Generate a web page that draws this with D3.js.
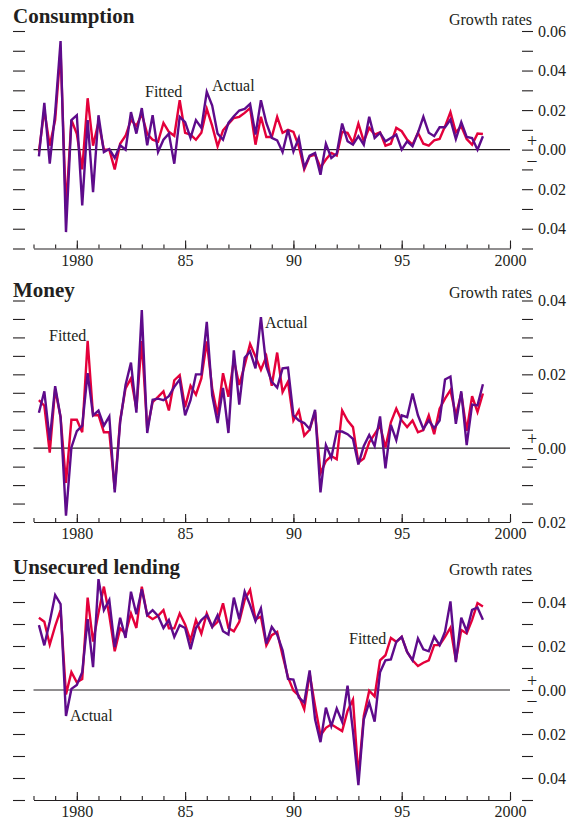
<!DOCTYPE html>
<html>
<head>
<meta charset="utf-8">
<script src="https://cdn.jsdelivr.net/npm/d3@7"></script>
<style>
    body { margin: 0; background: #fff; }
    text { font-family: "Liberation Serif", "DejaVu Serif", serif; fill: #231f20; }
</style>
</head>
<body>
<svg id="chart" width="573" height="833"></svg>
<script>
// quarterly observations, 1978 Q2 .. 1998 Q4
const quarters = d3.range(83).map(i => 1978.25 + i * 0.25);

const yearTicks     = d3.range(1978, 2001);
const yearLabels    = [1980, 1985, 1990, 1995, 2000];
const yearLabelText = ['1980', '85', '90', '95', '2000'];

const consActual = [
    -0.0034, 0.0236, -0.0071, 0.0186, 0.0549, -0.0417, 0.0149, 0.0174, -0.0282, 0.0149,
    -0.0215, 0.0174, -0.0012, 0.0003, -0.0042, 0.0022, 0.0, 0.019, 0.0081, 0.021,
    0.0022, 0.0174, -0.0012, 0.005, 0.0081, -0.0071, 0.0166, 0.0139, 0.0059, 0.0149,
    0.011, 0.0292, 0.0223, 0.0081, 0.005, 0.0135, 0.0169, 0.0198, 0.0206, 0.0231,
    0.0076, 0.025, 0.0135, 0.0059, 0.0047, -0.0012, 0.0101, -0.001, 0.006, -0.009,
    -0.003, -0.0017, -0.0127, 0.003, -0.0042, -0.002, 0.0132, 0.0042, 0.0025, 0.0068,
    0.0025, 0.0166, 0.0059, 0.0085, 0.0042, 0.0059, 0.0076, 0.0, 0.0042, 0.0017,
    0.0085, 0.0166, 0.0085, 0.0068, 0.0113, 0.0113, 0.0152, 0.0054, 0.0139, 0.0064,
    0.0059, 0.0, 0.0068
];
const consFitted = [
    -0.001, 0.02, 0.002, 0.015, 0.05, -0.03, 0.015, 0.008, -0.010, 0.026,
    0.002, 0.014, 0.0, 0.0, -0.010, 0.003, 0.007, 0.015, 0.012, 0.018,
    0.008, 0.005, 0.004, 0.0135, 0.009, 0.007, 0.025, 0.0085, 0.0076, 0.005,
    0.0085, 0.0206, 0.012, 0.0017, 0.0098, 0.013, 0.016, 0.0166, 0.0186, 0.021,
    0.0025, 0.0166, 0.0064, 0.0064, 0.0166, 0.0085, 0.01, 0.009, 0.0017, -0.010,
    -0.0034, -0.0025, -0.009, -0.005, -0.0017, -0.003, 0.009, 0.0085, 0.0034, 0.0132,
    0.0042, 0.011, 0.0076, 0.0088, 0.002, 0.003, 0.011, 0.0093, 0.005, 0.0025,
    0.0085, 0.003, 0.002, 0.0047, 0.0054, 0.0118, 0.019, 0.0088, 0.0118, 0.0054,
    0.0025, 0.0081, 0.0079
];

const moneyActual = [
    0.0096, 0.0154, 0.0022, 0.0168, 0.0084, -0.0183, 0.0002, 0.0046, 0.0061, 0.0203,
    0.0089, 0.0102, 0.0061, 0.0086, -0.012, 0.007, 0.0171, 0.0232, 0.0096, 0.0374,
    0.0041, 0.0131, 0.0134, 0.013, 0.0141, 0.0166, 0.0186, 0.0089, 0.013, 0.02,
    0.02, 0.0342, 0.0143, 0.0068, 0.0163, 0.0041, 0.0265, 0.0118, 0.0245, 0.0262,
    0.0216, 0.0355, 0.0221, 0.018, 0.0164, 0.0216, 0.0218, 0.0089, 0.0075, 0.0068,
    0.0052, 0.0104, -0.012, 0.0008, -0.0026, 0.0045, 0.0045, 0.0038, 0.0025, -0.0044,
    0.0006, 0.0036, 0.0006, 0.0086, -0.0055, 0.0063, 0.0022, 0.0089, 0.0084, 0.0148,
    0.0089, 0.0052, 0.0075, 0.0054, 0.0075, 0.0186, 0.0194, 0.0066, 0.0154, 0.0008,
    0.0118, 0.0116, 0.0173
];
const moneyFitted = [
    0.013, 0.0115, -0.0012, 0.016, 0.0084, -0.0094, 0.0077, 0.0077, 0.0043, 0.0291,
    0.0089, 0.009, 0.0043, 0.0043, -0.011, 0.0075, 0.0162, 0.0189, 0.0107, 0.029,
    0.0052, 0.0125, 0.0139, 0.0154, 0.0102, 0.0184, 0.0198, 0.0111, 0.0169, 0.0145,
    0.0189, 0.0289, 0.0162, 0.0089, 0.0203, 0.0139, 0.0239, 0.0171, 0.0225, 0.0282,
    0.0248, 0.0212, 0.0248, 0.0169, 0.0259, 0.0152, 0.018, 0.0075, 0.0102, 0.0034,
    0.005, 0.0098, -0.0068, -0.0035, -0.0021, -0.003, 0.0102, 0.0075, 0.0057, -0.0039,
    -0.0028, 0.0016, 0.0038, 0.0061, 0.0002, 0.007, 0.0107, 0.0075, 0.0057, 0.0075,
    0.0043, 0.0049, 0.0089, 0.0038, 0.0107, 0.0134, 0.0157, 0.0089, 0.0148, 0.0047,
    0.0141, 0.0098, 0.0148
];

const lendActual = [
    0.0295, 0.0203, 0.031, 0.0432, 0.039, -0.0118, 0.0005, 0.0023, 0.0081, 0.0322,
    0.0104, 0.0504, 0.0363, 0.0409, 0.0195, 0.0328, 0.0237, 0.0447, 0.0344, 0.0458,
    0.034, 0.0363, 0.0337, 0.0282, 0.0318, 0.0241, 0.0295, 0.0282, 0.0185, 0.0282,
    0.0318, 0.034, 0.0287, 0.034, 0.0267, 0.0252, 0.042, 0.0322, 0.0447, 0.0386,
    0.0313, 0.0371, 0.0211, 0.0287, 0.0252, 0.018, 0.005, 0.0047, -0.0034, -0.0057,
    0.0089, -0.0133, -0.0237, -0.008, -0.0164, -0.0084, -0.0144, 0.002, -0.0187, -0.0432,
    -0.0133, -0.0057, -0.0144, 0.0081, 0.0135, 0.0139, 0.0219, 0.0242, 0.0173, 0.0135,
    0.0234, 0.0185, 0.0176, 0.0242, 0.0204, 0.0265, 0.0403, 0.0127, 0.0329, 0.0268,
    0.0364, 0.0375, 0.0319
];
const lendFitted = [
    0.0328, 0.031, 0.0206, 0.029, 0.0363, -0.002, 0.0081, 0.0035, 0.005, 0.042,
    0.022, 0.035, 0.047, 0.034, 0.0176, 0.028, 0.0256, 0.0348, 0.0282, 0.047,
    0.034, 0.0322, 0.0337, 0.0363, 0.028, 0.028, 0.0348, 0.0298, 0.0226, 0.0318,
    0.0256, 0.0348, 0.0287, 0.031, 0.0394, 0.0282, 0.0267, 0.031, 0.0409, 0.0455,
    0.0322, 0.0333, 0.0203, 0.0249, 0.0264, 0.0157, 0.0058, -0.0003, -0.0026, -0.0087,
    0.0074, -0.0072, -0.0207, -0.0172, -0.0156, -0.0172, -0.0187, -0.0095, -0.0044, -0.0394,
    -0.0118, -0.0003, -0.0029, 0.0135, 0.0158, 0.0237, 0.0219, 0.0242, 0.0173, 0.0135,
    0.0109, 0.0124, 0.0135, 0.0204, 0.0204, 0.0242, 0.0283, 0.0135, 0.0273, 0.0257,
    0.0319, 0.0395, 0.038
];

const consTicks   = [-0.05, -0.04, -0.03, -0.02, -0.01, 0, 0.01, 0.02, 0.03, 0.04, 0.05, 0.06];
const consLabels  = [-0.04, -0.02, 0, 0.02, 0.04, 0.06];
const moneyTicks  = [-0.02, -0.015, -0.01, -0.005, 0, 0.005, 0.01, 0.015, 0.02, 0.025, 0.03, 0.035, 0.04];
const moneyLabels = [-0.02, 0, 0.02, 0.04];
const lendTicks   = [-0.05, -0.04, -0.03, -0.02, -0.01, 0, 0.01, 0.02, 0.03, 0.04, 0.05];
const lendLabels  = [-0.04, -0.02, 0, 0.02, 0.04];

const FITTED = '#e4003b';
const ACTUAL = '#5e0b8b';
const INK    = '#231f20';

let panels = [
    { title: 'Consumption', actual: consActual, fitted: consFitted,
      ticks: consTicks, labels: consLabels, top: 31, bottom: 248.5, titleY: 22.5, unitY: 25,
      notes: [ { text: 'Fitted', x: 145, y: 97 }, { text: 'Actual', x: 212, y: 91 } ] },
    { title: 'Money', actual: moneyActual, fitted: moneyFitted,
      ticks: moneyTicks, labels: moneyLabels, top: 300.5, bottom: 522, titleY: 297, unitY: 298,
      notes: [ { text: 'Fitted', x: 49, y: 341 }, { text: 'Actual', x: 265, y: 328 } ] },
    { title: 'Unsecured lending', actual: lendActual, fitted: lendFitted,
      ticks: lendTicks, labels: lendLabels, top: 580, bottom: 800, titleY: 574, unitY: 575,
      notes: [ { text: 'Actual', x: 70, y: 721 }, { text: 'Fitted', x: 349, y: 644 } ] }
];

let svg = d3.select('#chart');

let x = d3.scaleLinear()
    .domain([1978, 2000])
    .range([33.5, 510]);

let labelFormat = d3.format('.2f');

panels.forEach(p => {
    let g = svg.append('g');

    let y = d3.scaleLinear()
        .domain([d3.min(p.ticks), d3.max(p.ticks)])
        .range([p.bottom, p.top]);

    // left tick marks, no labels
    g.append('g')
        .attr('transform', 'translate(25,0)')
        .call(d3.axisLeft(y).tickValues(p.ticks).tickSize(12).tickFormat(''))
        .call(a => a.select('.domain').remove());

    // right tick marks with labels every other tick
    g.append('g')
        .attr('transform', 'translate(522,0)')
        .call(d3.axisRight(y).tickValues(p.ticks).tickSize(11).tickPadding(5)
            .tickFormat(d => p.labels.some(l => Math.abs(l - d) < 1e-9) ? labelFormat(Math.abs(d)) : ''))
        .call(a => a.select('.domain').remove());

    // x axis: small yearly ticks and taller five-year ticks
    g.append('g')
        .attr('transform', `translate(0,${p.bottom})`)
        .call(d3.axisBottom(x).tickValues(yearTicks).tickSizeInner(-4).tickSizeOuter(0).tickFormat(''));

    g.append('g')
        .attr('transform', `translate(0,${p.bottom})`)
        .call(d3.axisBottom(x).tickValues(yearLabels).tickSizeInner(-8).tickSizeOuter(0).tickPadding(6)
            .tickFormat((d, i) => yearLabelText[i]))
        .call(a => a.select('.domain').remove());

    g.selectAll('.tick line').attr('stroke', INK).attr('stroke-width', 1.1);
    g.selectAll('.domain').attr('stroke', INK).attr('stroke-width', 1.1);
    g.selectAll('.tick text')
        .attr('font-family', '"Liberation Serif", serif')
        .attr('font-size', 16)
        .attr('fill', INK);

    // zero line
    g.append('line')
        .attr('x1', x(1978)).attr('x2', x(2000))
        .attr('y1', y(0)).attr('y2', y(0))
        .attr('stroke', INK)
        .attr('stroke-width', 1.2);

    let line = d3.line()
        .x((d, i) => x(quarters[i]))
        .y(d => y(d));

    g.append('path')
        .datum(p.fitted)
        .attr('d', line)
        .attr('fill', 'none')
        .attr('stroke', FITTED)
        .attr('stroke-width', 2.4)
        .attr('stroke-linejoin', 'miter');

    g.append('path')
        .datum(p.actual)
        .attr('d', line)
        .attr('fill', 'none')
        .attr('stroke', ACTUAL)
        .attr('stroke-width', 2.4)
        .attr('stroke-linejoin', 'miter');

    g.append('text')
        .attr('x', 13)
        .attr('y', p.titleY)
        .attr('font-size', 21)
        .attr('font-weight', 'bold')
        .text(p.title);

    g.append('text')
        .attr('x', 532)
        .attr('y', p.unitY)
        .attr('font-size', 16)
        .attr('text-anchor', 'end')
        .text('Growth rates');

    // sign markers either side of the zero line
    g.append('text')
        .attr('x', 532)
        .attr('y', y(0) - 3)
        .attr('font-size', 18)
        .attr('text-anchor', 'middle')
        .text('+');

    g.append('text')
        .attr('x', 532)
        .attr('y', y(0) + 16)
        .attr('font-size', 18)
        .attr('text-anchor', 'middle')
        .text('\u2013');

    g.selectAll('.note')
        .data(p.notes)
        .join('text')
        .attr('class', 'note')
        .attr('x', d => d.x)
        .attr('y', d => d.y)
        .attr('font-size', 16)
        .text(d => d.text);
});
</script>
</body>
</html>
